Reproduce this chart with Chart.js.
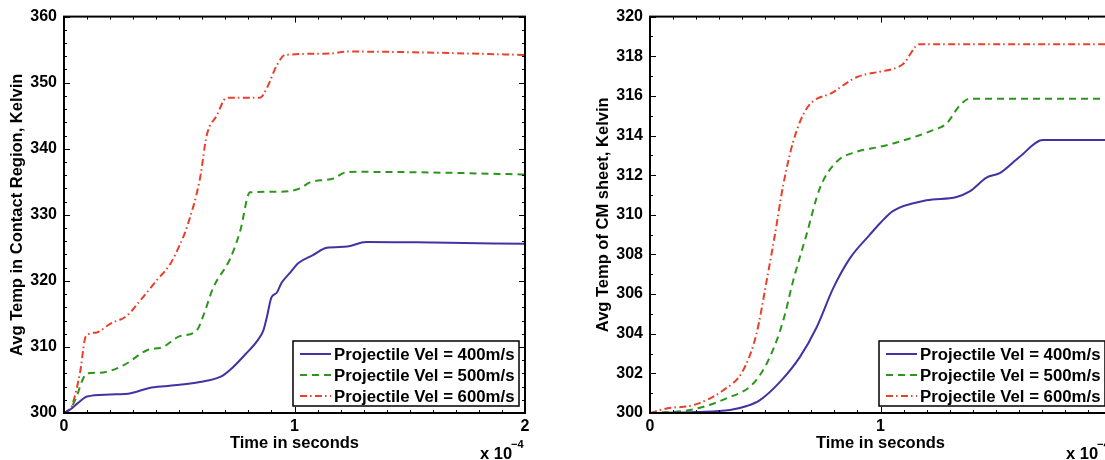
<!DOCTYPE html>
<html>
<head>
<meta charset="utf-8">
<script src="https://cdn.jsdelivr.net/npm/chart.js@4.4.0/dist/chart.umd.min.js"></script>
<style>
  html, body { margin: 0; padding: 0; background: #fff; overflow: hidden; width: 1105px; height: 460px; }
  .panel { position: absolute; top: 0; width: 545px; height: 460px; }
</style>
</head>
<body>
<div class="panel" style="left:0"><canvas id="contact" width="545" height="460"></canvas></div>
<div class="panel" style="left:586px"><canvas id="sheet" width="545" height="460"></canvas></div>
<script>
// time axis values are in units of 1e-4 s (axis shows "x 10^-4")
const X_TICKS = [0, 1, 2];
const SERIES_LABELS = [
  "Projectile Vel = 400m/s",
  "Projectile Vel = 500m/s",
  "Projectile Vel = 600m/s",
];

// left panel: contact region
const contact400 = [
  [0, 300], [0.03, 300.6], [0.06, 301.5], [0.1, 302.5], [0.2, 302.8], [0.29, 303.0],
  [0.37, 303.8], [0.45, 304.1], [0.59, 304.7], [0.68, 305.5], [0.72, 306.5], [0.79, 309],
  [0.84, 311], [0.865, 312.5], [0.88, 314.5], [0.9, 317.5], [0.923, 318.2], [0.944, 319.7],
  [0.98, 321.2], [1.017, 322.7], [1.08, 323.9], [1.14, 325.0], [1.23, 325.2], [1.31, 325.9],
  [1.6, 325.8], [2.0, 325.6],
];
const contact500 = [
  [0, 300], [0.03, 300.8], [0.055, 302.5], [0.08, 305], [0.1, 306.0], [0.156, 306.1],
  [0.257, 307.2], [0.36, 309.5], [0.43, 310.0], [0.5, 311.6], [0.576, 312.5], [0.604, 314.7],
  [0.648, 319], [0.72, 323.3], [0.764, 327.5], [0.807, 333.4], [0.94, 333.5], [1.024, 334.0],
  [1.067, 334.9], [1.17, 335.5], [1.22, 336.4], [1.28, 336.5], [1.6, 336.4], [2.0, 336.1],
];
const contact600 = [
  [0, 300], [0.033, 301], [0.069, 306], [0.095, 311.6], [0.142, 312.2], [0.2, 313.5],
  [0.272, 314.7], [0.33, 317], [0.4, 320], [0.46, 322.5], [0.503, 325.5], [0.532, 328],
  [0.59, 335.5], [0.619, 342], [0.662, 345], [0.706, 347.7], [0.85, 347.7], [0.879, 349.1],
  [0.923, 352.6], [0.959, 354.2], [1.154, 354.4], [1.227, 354.7], [1.284, 354.7],
  [1.515, 354.6], [2.0, 354.2],
];

// right panel: CM sheet
const sheet400 = [
  [0, 300], [0.2, 300.05], [0.347, 300.15], [0.42, 300.35], [0.477, 300.65], [0.564, 301.57],
  [0.65, 302.82], [0.722, 304.3], [0.795, 306.3], [0.867, 307.8], [0.954, 309.0], [1.0, 309.6],
  [1.055, 310.2], [1.2, 310.73], [1.33, 310.9], [1.387, 311.18], [1.46, 311.88], [1.517, 312.1],
  [1.604, 312.93], [1.705, 313.77], [2.0, 313.77],
];
const sheet500 = [
  [0, 300], [0.173, 300.15], [0.332, 300.74], [0.448, 301.49], [0.52, 302.82], [0.578, 304.66],
  [0.621, 306.67], [0.679, 309.0], [0.737, 311.35], [0.81, 312.68], [0.896, 313.18],
  [0.997, 313.43], [1.055, 313.6], [1.228, 314.27], [1.286, 314.6], [1.344, 315.52],
  [1.387, 315.86], [2.0, 315.86],
];
const sheet600 = [
  [0, 300], [0.072, 300.23], [0.188, 300.4], [0.318, 301.15], [0.404, 302.15], [0.462, 304.0],
  [0.506, 306.67], [0.542, 309.0], [0.578, 311.5], [0.621, 313.68], [0.679, 315.35],
  [0.795, 316.19], [0.896, 316.94], [0.997, 317.22], [1.055, 317.36], [1.098, 317.61],
  [1.17, 318.61], [2.0, 318.61],
];

const FONT = "'Liberation Sans', Arial, Helvetica, sans-serif";
const LINE_STYLES = [
  { color: "#4531a3", dash: [] },
  { color: "#2b961b", dash: [7, 5] },
  { color: "#e8402a", dash: [7, 3, 1.5, 3.5] },
];

const matlabAxesPlugin = {
  id: "matlabAxes",
  afterDraw(chart, _args, options) {
    const { ctx, chartArea: area, scales } = chart;
    const xScale = scales.x;
    const yScale = scales.y;

    const eachTick = (min, max, minor, major, fn) => {
      const count = Math.round((max - min) / minor);
      for (let k = 0; k <= count; k += 1) {
        const v = min + k * minor;
        const r = v / major;
        fn(v, Math.abs(r - Math.round(r)) < 1e-6);
      }
    };

    ctx.save();
    ctx.strokeStyle = "#000";
    ctx.lineWidth = 1;
    ctx.beginPath();
    eachTick(xScale.min, xScale.max, options.xMinor, options.xMajor, (v, isMajor) => {
      const px = Math.round(xScale.getPixelForValue(v)) + 0.5;
      const len = isMajor ? 6 : 3;
      ctx.moveTo(px, area.bottom);
      ctx.lineTo(px, area.bottom - len);
      ctx.moveTo(px, area.top);
      ctx.lineTo(px, area.top + len);
    });
    eachTick(yScale.min, yScale.max, options.yMinor, options.yMajor, (v, isMajor) => {
      const py = Math.round(yScale.getPixelForValue(v)) + 0.5;
      const len = isMajor ? 6 : 3;
      ctx.moveTo(area.left, py);
      ctx.lineTo(area.left + len, py);
      ctx.moveTo(area.right, py);
      ctx.lineTo(area.right - len, py);
    });
    ctx.stroke();

    ctx.lineWidth = 2;
    ctx.strokeRect(area.left, area.top, area.right - area.left, area.bottom - area.top);

    // legend box, lower right inside the axes
    const boxW = 226;
    const boxH = 65;
    const boxL = area.right - 6 - boxW;
    const boxT = area.bottom - 7 - boxH;
    ctx.fillStyle = "#fff";
    ctx.fillRect(boxL, boxT, boxW, boxH);
    ctx.lineWidth = 1.5;
    ctx.strokeRect(boxL, boxT, boxW, boxH);
    ctx.font = `bold 16.8px ${FONT}`;
    ctx.textBaseline = "middle";
    ctx.textAlign = "left";
    chart.data.datasets.forEach((ds, i) => {
      const rowY = boxT + 13 + i * 21;
      ctx.save();
      ctx.strokeStyle = ds.borderColor;
      ctx.lineWidth = 2;
      ctx.setLineDash(ds.borderDash || []);
      ctx.beginPath();
      ctx.moveTo(boxL + 7, rowY);
      ctx.lineTo(boxL + 38, rowY);
      ctx.stroke();
      ctx.restore();
      ctx.fillStyle = "#000";
      ctx.fillText(ds.label, boxL + 41, rowY + 1);
    });

    // exponent label
    ctx.fillStyle = "#000";
    ctx.textBaseline = "alphabetic";
    ctx.font = `bold 16.5px ${FONT}`;
    ctx.fillText("x 10", area.right - 45, 459);
    ctx.font = `bold 11px ${FONT}`;
    ctx.fillText("\u22124", area.right - 14, 448);
    ctx.restore();
  },
};

const buildPanel = ({ canvasId, series, yMin, yMax, yStep, yMinor, yTitle }) => {
  const datasets = series.map((points, i) => ({
    label: SERIES_LABELS[i],
    data: points.map(([t, temp]) => ({ x: t, y: temp })),
    borderColor: LINE_STYLES[i].color,
    borderDash: LINE_STYLES[i].dash,
    backgroundColor: "transparent",
    borderWidth: 2,
    pointRadius: 0,
    cubicInterpolationMode: "monotone",
  }));

  return new Chart(document.getElementById(canvasId), {
    type: "line",
    plugins: [matlabAxesPlugin],
    data: { datasets },
    options: {
      responsive: false,
      animation: false,
      devicePixelRatio: 1,
      layout: { padding: { top: 14, right: 20, bottom: 0, left: 0 } },
      plugins: {
        legend: { display: false },
        tooltip: { enabled: false },
        matlabAxes: { xMinor: 0.1, xMajor: 1, yMinor, yMajor: yStep },
      },
      scales: {
        x: {
          type: "linear",
          min: 0,
          max: 2,
          afterFit: (scale) => {
            scale.height = 47;
          },
          afterBuildTicks: (scale) => {
            scale.ticks = X_TICKS.map((value) => ({ value }));
          },
          ticks: {
            color: "#000",
            font: { family: FONT, size: 16, weight: "bold" },
            padding: 4,
            maxRotation: 0,
            callback: (value) => String(value),
          },
          grid: { display: false, drawTicks: false },
          border: { display: false },
          title: {
            display: true,
            text: "Time in seconds",
            color: "#000",
            font: { family: FONT, size: 16.5, weight: "bold" },
            padding: { top: 0, bottom: 7 },
          },
        },
        y: {
          type: "linear",
          min: yMin,
          max: yMax,
          afterFit: (scale) => {
            scale.width = 64;
          },
          ticks: {
            stepSize: yStep,
            color: "#000",
            font: { family: FONT, size: 16, weight: "bold" },
            padding: 7,
          },
          grid: { display: false, drawTicks: false },
          border: { display: false },
          title: {
            display: true,
            text: yTitle,
            color: "#000",
            font: { family: FONT, size: 16.5, weight: "bold" },
            padding: { top: 8, bottom: 0 },
          },
        },
      },
    },
  });
};

buildPanel({
  canvasId: "contact",
  series: [contact400, contact500, contact600],
  yMin: 300,
  yMax: 360,
  yStep: 10,
  yMinor: 2,
  yTitle: "Avg Temp in Contact Region, Kelvin",
});

buildPanel({
  canvasId: "sheet",
  series: [sheet400, sheet500, sheet600],
  yMin: 300,
  yMax: 320,
  yStep: 2,
  yMinor: 1,
  yTitle: "Avg Temp of CM sheet, Kelvin",
});
</script>
</body>
</html>
